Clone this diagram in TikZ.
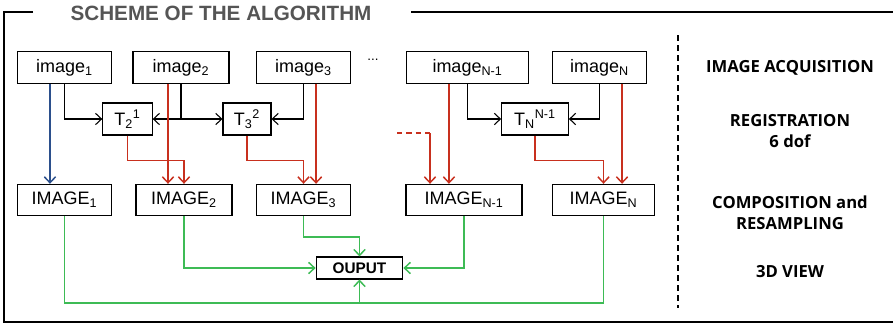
\documentclass[tikz,border=0pt]{standalone}
\usepackage{fontspec}
\setmainfont{Liberation Sans}
\newfontfamily\sidefont{Open Sans}
\usetikzlibrary{positioning,arrows.meta}
\definecolor{regred}{HTML}{C8301E}
\definecolor{rawblue}{HTML}{2B4F8C}
\definecolor{outgreen}{HTML}{3DBB55}
\definecolor{titlegray}{HTML}{555555}

\begin{document}
\begin{tikzpicture}[x=0.75pt, y=-0.75pt, >={Straight Barb[length=4.5pt,width=8.5pt]},
  box/.style={draw, line width=0.8pt, inner sep=0pt, minimum height=23.5pt, font=\fontsize{13.5}{16}\selectfont},
  side/.style={align=center, font=\sidefont\bfseries\fontsize{12.5}{16}\selectfont},
  reg/.style={regred, line width=1.1pt},
  comp/.style={outgreen, line width=1.1pt},
  acq/.style={line width=0.8pt}]
\useasboundingbox (0,0) rectangle (893,326);
% frame and title
\draw[line width=1.4pt] (33,12) -- (4,12) -- (4,322) -- (893,322);
\draw[line width=1.4pt] (411,12) -- (893,12);
\node[font=\bfseries\fontsize{15.5}{18}\selectfont, text=titlegray] (title) at (221,13) {SCHEME OF THE ALGORITHM};
% acquired images
\node[box, minimum width=71pt] (img1) at (64.5,67.5) {image\textsubscript{1}};
\node[box, minimum width=72pt] (img2) at (181,67.5) {image\textsubscript{2}};
\node[box, minimum width=71pt] (img3) at (303.5,67.5) {image\textsubscript{3}};
\node (dots) at (373,60) {...};
\node[box, minimum width=92pt] (imgN1) at (467.5,67.5) {image\textsubscript{N-1}};
\node[box, minimum width=71pt] (imgN) at (599.5,67.5) {image\textsubscript{N}};
% registrations
\node[box, minimum width=37pt, minimum height=24pt] (t21) at (127.5,119) {T\textsubscript{2}\textsuperscript{1}};
\node[box, minimum width=36pt, minimum height=24pt] (t32) at (247,119) {T\textsubscript{3}\textsuperscript{2}};
\node[box, minimum width=50pt, minimum height=24pt] (tN) at (535,119) {T\textsubscript{N}\textsuperscript{N-1}};
% resampled images
\node[box, minimum width=71pt] (IMG1) at (64.5,200) {IMAGE\textsubscript{1}};
\node[box, minimum width=72pt] (IMG2) at (184,200) {IMAGE\textsubscript{2}};
\node[box, minimum width=71pt] (IMG3) at (303.5,200) {IMAGE\textsubscript{3}};
\node[box, minimum width=87pt] (IMGN1) at (464,200) {IMAGE\textsubscript{N-1}};
\node[box, minimum width=77pt] (IMGN) at (603.5,200) {IMAGE\textsubscript{N}};
\node[box, minimum width=65pt, minimum height=16.5pt, font=\bfseries\fontsize{11.5}{14}\selectfont] (out) at (359.5,268) {OUPUT};
% side labels
\node[side] (acqlbl) at (790,68) {IMAGE ACQUISITION};
\node[side] (reglbl) at (790,131) {REGISTRATION\\6 dof};
\node[side] (complbl) at (790,213) {COMPOSITION and\\RESAMPLING};
\node[side] (viewlbl) at (790,272) {3D VIEW};
\coordinate (sepT) at (678,35);
\coordinate (sepB) at (678,308);
\draw[line width=1.1pt, dash pattern=on 4.5pt off 3pt] (sepT) -- (sepB);
% pairwise registration
\draw[->, acq] (img1.south) |- (t21.west);
\draw[->, acq] (img2.south) |- (t21.east);
\draw[->, acq] (img2.south) |- (t32.west);
\draw[->, acq] (img3.south) |- (t32.east);
\draw[->, acq] (imgN1.south) |- (tN.west);
\draw[->, acq] (imgN.south) |- (tN.east);
% first image kept as reference
\coordinate (b1) at ([xshift=-10.9pt]img1.south);
\draw[->, rawblue, line width=1.1pt] (b1) -- (b1 |- IMG1.north);
% resampling
\coordinate (r2) at ([xshift=-9.75pt]img2.south);
\coordinate (r3) at ([xshift=9.4pt]img3.south);
\coordinate (rN1) at ([xshift=-13.9pt]imgN1.south);
\coordinate (rN) at ([xshift=16.9pt]imgN.south);
\coordinate (dn) at ([xshift=-25.5pt]IMGN1.north);
\coordinate (dash) at (397,133);
\draw[->, reg] (r2) -- (r2 |- IMG2.north);
\draw[->, reg] (t21.south) -- ++(0,25) -| (IMG2.north);
\draw[->, reg] (r3) -- (r3 |- IMG3.north);
\draw[->, reg] (t32.south) -- ++(0,25) -| (IMG3.north);
\draw[reg, dash pattern=on 4pt off 3pt] (dash) -- (dash -| dn);
\draw[->, reg] (dash -| dn) -- (dn);
\draw[->, reg] (rN1) -- (rN1 |- IMGN1.north);
\draw[->, reg] (tN.south) -- ++(0,25) -| (IMGN.north);
\draw[->, reg] (rN) -- (rN |- IMGN.north);
% composition
\coordinate (bus) at (360,303);
\draw[comp] (IMG1.south) |- (bus) -| (IMGN.south);
\draw[->, comp] (out.south |- bus) -- (out.south);
\draw[->, comp] (IMG2.south) |- (out.west);
\draw[->, comp] (IMG3.south) -- ++(0,21) -| (out.north);
\draw[->, comp] (IMGN1.south) |- (out.east);
\end{tikzpicture}
\end{document}
